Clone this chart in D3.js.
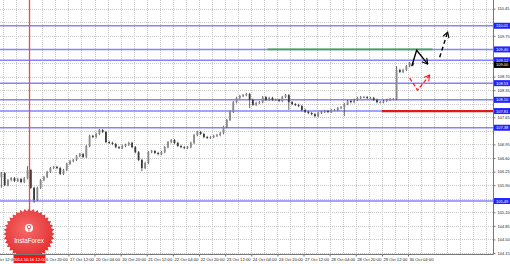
<!DOCTYPE html>
<html>
<head>
<meta charset="utf-8">
<script src="https://cdnjs.cloudflare.com/ajax/libs/d3/7.8.5/d3.min.js"></script>
<style>
  body { margin: 0; background: #fff; }
  svg { display: block; font-family: "Liberation Sans", Arial, sans-serif; }
</style>
</head>
<body>
<script>
var svgWidth = 510;
var svgHeight = 264;
var plotRight = 493;
var plotBottom = 254;

// price scale labels
var priceTicks = [104.15, 104.50, 104.85, 105.20, 105.55, 105.90, 106.25, 106.60, 106.95,
  107.30, 107.65, 108.00, 108.35, 108.70, 109.05, 109.40, 109.75, 110.10, 110.45];

// time scale labels, one every 16 H1 bars, bar 0 = 15 Oct 12:00
var timeStep = 16;
var timeLabels = ["15 Oct 12:00", "16 Oct 04:00", "16 Oct 20:00", "17 Oct 12:00", "20 Oct 04:00",
  "20 Oct 20:00", "21 Oct 12:00", "22 Oct 04:00", "22 Oct 20:00", "23 Oct 12:00", "24 Oct 04:00",
  "24 Oct 20:00", "27 Oct 12:00", "28 Oct 04:00", "28 Oct 20:00", "29 Oct 12:00", "30 Oct 04:00"];

// 2-hour candles, first one starts at bar 6
var firstBar = 6;
var firstOpen = 106.10;
var closes = [
  106.21, 105.90, 106.03, 106.08, 106.01, 106.06, 105.98, 106.08, 106.29, 105.83,
  105.52, 105.83, 106.03, 106.11, 106.24, 106.34, 106.37, 106.34, 106.19, 106.29,
  106.45, 106.52, 106.55, 106.65, 106.70, 106.63, 106.91, 107.17, 107.14, 107.22,
  107.32, 107.27, 107.01, 106.99, 106.96, 106.88, 106.86, 106.91, 106.94, 106.99,
  106.88, 106.75, 106.55, 106.34, 106.47, 106.75, 106.78, 106.73, 106.70, 106.75,
  106.88, 107.01, 107.06, 106.99, 106.91, 106.88, 106.86, 106.88, 106.99, 107.19,
  107.27, 107.22, 107.14, 107.12, 107.14, 107.17, 107.19, 107.24, 107.40, 107.58,
  107.79, 108.04, 108.15, 108.20, 108.22, 108.25, 108.10, 107.97, 108.02, 108.04,
  108.17, 108.10, 108.15, 108.10, 108.10, 108.07, 108.17, 108.22, 108.04, 107.99,
  107.97, 107.94, 107.84, 107.79, 107.76, 107.73, 107.68, 107.76, 107.79, 107.81,
  107.79, 107.84, 107.84, 107.89, 107.91, 107.99, 108.07, 108.04, 108.10, 108.15,
  108.17, 108.17, 108.15, 108.15, 108.10, 108.04, 108.04, 108.07, 108.10, 108.12,
  108.12, 108.87, 108.82, 108.87, 108.97, 109.05, 109.00];
// candles with long shadows: [candle index, price]
var spikeHighs = [[8, 106.39], [121, 108.97]];
var spikeLows = [[0, 105.83], [10, 105.44], [43, 106.26], [76, 107.89], [88, 107.84], [105, 107.68]];

// horizontal levels
var levels = [110.01, 109.40, 109.12, 108.53, 108.10, 107.81, 107.38, 105.49];
var greenLevel = [109.40, 170, 271];   // price, from bar, to bar
var redLevel = [107.81, 240, 310];
var lastPrice = 109.00;
var markerBar = 24;
var markerText = "2014.10.16 12:00";

// forecast arrows as [bar, price]
var arrowSolid = [[258.3, 108.97], [261.3, 109.38], [268.1, 109.02]];
var arrowDashed = [[275.4, 109.20], [280.3, 109.85]];
var arrowRed = [[257.0, 108.66], [261.9, 108.35], [269.3, 108.74]];

var x = d3.scaleLinear().domain([0, 256]).range([-10, 408]);
var y = d3.scaleLinear().domain([104.15, 110.45]).range([253, 8.7]);

var svg = d3.select("body").append("svg")
  .attr("width", svgWidth)
  .attr("height", svgHeight);

var defs = svg.append("defs");
defs.append("clipPath").attr("id", "plot")
  .append("rect").attr("x", 0).attr("y", 0).attr("width", plotRight).attr("height", plotBottom);

function addArrowHead(id, color) {
  defs.append("marker")
    .attr("id", id)
    .attr("viewBox", "0 0 10 10")
    .attr("refX", 9).attr("refY", 5)
    .attr("markerUnits", "userSpaceOnUse")
    .attr("markerWidth", 7).attr("markerHeight", 7)
    .attr("orient", "auto")
    .append("path")
    .attr("d", "M1,0.5 L9,5 L1,9.5")
    .attr("fill", "none")
    .attr("stroke", color)
    .attr("stroke-width", 1.6);
}
addArrowHead("headBlack", "#000");
addArrowHead("headRed", "#ff2020");

var grad = defs.append("radialGradient").attr("id", "logoGrad")
  .attr("cx", "45%").attr("cy", "40%").attr("r", "65%");
grad.append("stop").attr("offset", "0%").attr("stop-color", "#f66a6a");
grad.append("stop").attr("offset", "100%").attr("stop-color", "#e02a2a");

var plot = svg.append("g").attr("clip-path", "url(#plot)");
var markX = Math.round(x(markerBar));

// grid
plot.append("g").selectAll("line")
  .data(priceTicks)
  .enter().append("line")
  .attr("x1", 0).attr("x2", plotRight)
  .attr("y1", d => Math.round(y(d)) + 0.5).attr("y2", d => Math.round(y(d)) + 0.5)
  .attr("stroke", "#c8c8c8").attr("stroke-dasharray", "1,1");

plot.append("g").selectAll("line")
  .data(d3.range(0, 312, timeStep / 2).filter(b => b !== markerBar))
  .enter().append("line")
  .attr("x1", d => Math.round(x(d)) + 0.5).attr("x2", d => Math.round(x(d)) + 0.5)
  .attr("y1", 0).attr("y2", plotBottom)
  .attr("stroke", "#c8c8c8").attr("stroke-dasharray", "1,1");

// levels
plot.append("g").selectAll("line")
  .data(levels)
  .enter().append("line")
  .attr("x1", 0).attr("x2", plotRight)
  .attr("y1", d => y(d)).attr("y2", d => y(d))
  .attr("stroke", "#8484ff").attr("stroke-width", 1.5);

plot.append("line")
  .attr("x1", x(greenLevel[1])).attr("x2", x(greenLevel[2]))
  .attr("y1", y(greenLevel[0])).attr("y2", y(greenLevel[0]))
  .attr("stroke", "#3aaa3a").attr("stroke-width", 1.6);

plot.append("line")
  .attr("x1", x(redLevel[1])).attr("x2", x(redLevel[2]))
  .attr("y1", y(redLevel[0])).attr("y2", y(redLevel[0]))
  .attr("stroke", "#e01818").attr("stroke-width", 2.2);

// candles
var candles = closes.map(function(c, i) {
  var open = i ? closes[i - 1] : firstOpen;
  var hi = Math.max(open, c) + 0.03;
  var lo = Math.min(open, c) - 0.03;
  spikeHighs.forEach(s => { if (s[0] === i) hi = s[1]; });
  spikeLows.forEach(s => { if (s[0] === i) lo = s[1]; });
  return { bar: firstBar + 2 * i + 1, open: open, close: c, high: hi, low: lo };
});

var candleGroup = plot.append("g");
candleGroup.selectAll("line")
  .data(candles)
  .enter().append("line")
  .attr("x1", d => x(d.bar)).attr("x2", d => x(d.bar))
  .attr("y1", d => y(d.high)).attr("y2", d => y(d.low))
  .attr("stroke", "#444").attr("stroke-width", 0.8);

candleGroup.selectAll("rect")
  .data(candles)
  .enter().append("rect")
  .attr("x", d => x(d.bar) - 0.9)
  .attr("width", 1.8)
  .attr("y", d => y(Math.max(d.open, d.close)))
  .attr("height", d => Math.max(1, Math.abs(y(d.open) - y(d.close))))
  .attr("fill", d => d.close >= d.open ? "#8a8a8a" : "#3a3a3a");

// forecast arrows
var line = d3.line().x(d => x(d[0])).y(d => y(d[1]));

plot.append("path")
  .attr("d", line(arrowSolid))
  .attr("fill", "none").attr("stroke", "#000").attr("stroke-width", 1.4)
  .attr("marker-end", "url(#headBlack)");

plot.append("path")
  .attr("d", line(arrowDashed))
  .attr("fill", "none").attr("stroke", "#000").attr("stroke-width", 1.4)
  .attr("stroke-dasharray", "4,3")
  .attr("marker-end", "url(#headBlack)");

plot.append("path")
  .attr("d", line(arrowRed))
  .attr("fill", "none").attr("stroke", "#ff2020").attr("stroke-width", 1.3)
  .attr("stroke-dasharray", "4,2")
  .attr("marker-end", "url(#headRed)");

// vertical marker line, over the candles
svg.append("line")
  .attr("x1", markX + 0.5).attr("x2", markX + 0.5)
  .attr("y1", 0).attr("y2", plotBottom)
  .style("stroke", "rgb(255, 70, 70)")
  .style("stroke-width", "1.3px");

// InstaForex logo
var logo = svg.append("g").attr("transform", "translate(29, 234)");
var teeth = d3.range(72).map(function(k) {
  var a = k * Math.PI / 36;
  var r = k % 2 ? 22.8 : 25.5;
  return [r * Math.cos(a), r * Math.sin(a)];
});
logo.append("path")
  .attr("d", d3.line().curve(d3.curveLinearClosed)(teeth))
  .attr("fill", "url(#logoGrad)");
logo.append("circle").attr("cx", 0).attr("cy", -6).attr("r", 4)
  .attr("fill", "#fff");
logo.append("circle").attr("cx", 0).attr("cy", -7).attr("r", 1.8)
  .attr("fill", "none").attr("stroke", "#e03030").attr("stroke-width", 0.8);
logo.append("line").attr("x1", 0).attr("x2", 0).attr("y1", -6).attr("y2", -2.5)
  .attr("stroke", "#e03030").attr("stroke-width", 0.8);
logo.append("text")
  .attr("x", 0).attr("y", 8.5)
  .attr("text-anchor", "middle")
  .attr("fill", "#fff")
  .style("font-size", "6.3px")
  .text("InstaForex");

// chart frame
svg.append("line")
  .attr("x1", plotRight + 0.5).attr("x2", plotRight + 0.5)
  .attr("y1", 0).attr("y2", plotBottom + 0.5)
  .attr("stroke", "#777");
svg.append("line")
  .attr("x1", 0).attr("x2", plotRight + 0.5)
  .attr("y1", plotBottom + 0.5).attr("y2", plotBottom + 0.5)
  .attr("stroke", "#777");

// level tags cover the scale labels beneath them
var tags = levels.map(p => ({ p: p, bg: "#2323ff" })).concat([{ p: lastPrice, bg: "#000" }]);
var freeTicks = priceTicks.filter(t => tags.every(g => Math.abs(y(g.p) - y(t)) > 4.5));

// price axis
var yAxis = d3.axisRight(y)
  .tickValues(freeTicks)
  .tickFormat(d3.format(".2f"))
  .tickSize(2)
  .tickPadding(2);

var yAxisG = svg.append("g")
  .attr("transform", `translate(${plotRight + 0.5}, 0)`)
  .call(yAxis);
yAxisG.select(".domain").remove();
yAxisG.selectAll("line").attr("stroke", "#777");
yAxisG.selectAll("text").attr("fill", "#222").style("font-size", "4px").style("font-family", "Liberation Sans, Arial, sans-serif");

// time axis, a label fully under the marker tag is hidden
var timeBars = timeLabels.map((t, i) => i * timeStep)
  .filter(b => !(x(b) >= markX - 16 && x(b) + 24 <= markX + 16));

var xAxis = d3.axisBottom(x)
  .tickValues(timeBars)
  .tickFormat(d => timeLabels[d / timeStep])
  .tickSize(2)
  .tickPadding(2);

var xAxisG = svg.append("g")
  .attr("transform", `translate(0, ${plotBottom + 0.5})`)
  .call(xAxis);
xAxisG.select(".domain").remove();
xAxisG.selectAll("line").attr("stroke", "#777");
xAxisG.selectAll("text")
  .attr("text-anchor", "start")
  .attr("dx", 1)
  .attr("fill", "#222")
  .style("font-size", "4.2px")
  .style("font-family", "Liberation Sans, Arial, sans-serif");

// level labels on the price scale
var tagGroup = svg.append("g");
tagGroup.selectAll("rect")
  .data(tags)
  .enter().append("rect")
  .attr("x", plotRight + 1)
  .attr("y", d => y(d.p) - 3)
  .attr("width", svgWidth - plotRight - 1)
  .attr("height", 6)
  .attr("fill", d => d.bg);
tagGroup.selectAll("text")
  .data(tags)
  .enter().append("text")
  .attr("x", plotRight + 3)
  .attr("y", d => y(d.p) + 1.5)
  .attr("fill", "#fff")
  .style("font-size", "4px")
  .text(d => d3.format(".2f")(d.p));

// marker date label on the time scale
svg.append("rect")
  .attr("x", markX - 15.5).attr("y", plotBottom + 1)
  .attr("width", 32).attr("height", 8)
  .attr("fill", "#ff1010");
svg.append("text")
  .attr("x", markX + 0.5).attr("y", plotBottom + 6.8)
  .attr("text-anchor", "middle")
  .attr("fill", "#fff")
  .style("font-size", "4.2px")
  .text(markerText);
</script>
</body>
</html>
